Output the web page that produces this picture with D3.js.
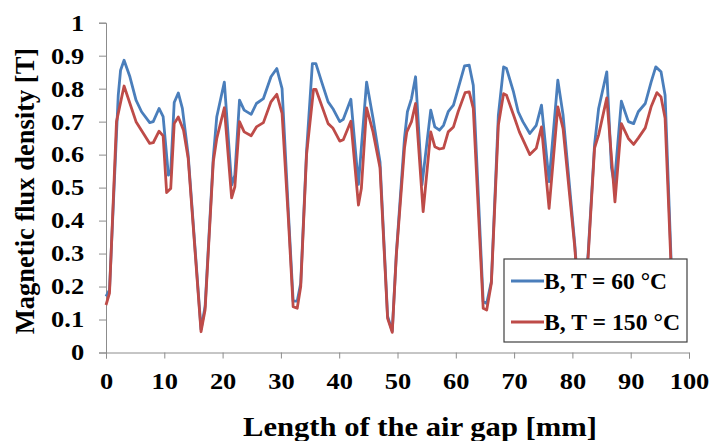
<!DOCTYPE html>
<html>
<head>
<meta charset="utf-8">
<script src="https://cdn.jsdelivr.net/npm/d3@7"></script>
<style>
  html, body { margin: 0; padding: 0; background: #fff; }
  svg { display: block; }
  svg text { font-family: "Liberation Serif", "Times New Roman", serif !important; font-weight: bold; fill: #000; }
</style>
</head>
<body>
<svg id="chart" width="710" height="441"></svg>
<script>
// ---- data ----
const seriesNames = ["B, T = 60 °C", "B, T = 150 °C"];
const seriesColors = ["#4A7EBB", "#BE4B48"];

const xBlue = [0,0.6,2.1,2.5,3.1, 4.1,5.15,6.1,7.5,8.1, 9.1,9.8,10.7,11.1,11.7, 12.4,13.1,14.1,16.3,17,
  18.4,19,20.3,21.55,22.1, 22.9,23.7,24.9,25.8,27, 28.3,29.3,30.2,31.3,32.1, 32.8,33.4,34.4,35.4,36,
  37,38.1,38.9,40.1,40.7, 42,43.3,44.7,45.8,47, 48.3,49.1,49.8,51.2,51.7, 52.4,53.1,54.2,55.7,56.4,
  57.2,57.9,58.7,59.6,60.4, 61.5,62.3,63,64.7,65.3, 66.1,67.3,68.2,68.7,69.9, 70.7,71.5,72.7,73.8,74.7,
  76,77.5,78.4,80.4,81.5, 82.7,83.8,84.5,85.9,86.7, 87.2,88.4,89.6,90.5,91.3, 92.5,93.5,94.3,95.2,95.9, 97.2];
const yBlue = [0.17,0.19,0.78,0.856,0.886, 0.836,0.765,0.73,0.697,0.70, 0.74,0.715,0.538,0.548,0.758,
  0.787,0.74,0.598,0.07,0.14, 0.59,0.715,0.82,0.508,0.538, 0.765,0.735,0.722,0.755,0.77,
  0.836,0.861,0.80,0.42,0.156, 0.156,0.21,0.61,0.876,0.876, 0.82,0.76,0.74,0.70,0.707,
  0.768,0.51,0.82,0.71,0.578, 0.11,0.065,0.30,0.65,0.73, 0.77,0.836,0.508,0.735,0.684,
  0.674,0.689,0.73,0.75,0.80, 0.869,0.871,0.81,0.154,0.149, 0.215,0.72,0.866,0.861,0.79,
  0.73,0.70,0.664,0.689,0.75, 0.518,0.826,0.72,0.33,0.07, 0.30,0.63,0.74,0.851,0.56,
  0.51,0.762,0.70,0.694,0.73, 0.755,0.82,0.866,0.851,0.78, 0.15];

const xRed = [0,0.6,1.8,3.1,5.15, 7.5,8.1,9.1,9.8,10.4, 11.1,11.7,12.4,13.3,14.1, 16.3,17,18.4,19,20.3,
  21.55,22.1,22.9,23.7,24.9, 25.8,27,28.3,29.3,30.2, 31.3,32.1,32.8,33.4,34.4, 35.6,36,38.1,38.9,40.1,
  40.7,42,43.3,43.8,44.7, 45.8,47,48.3,49.1,49.8, 51.2,51.6,52.4,53.1,54.4, 55.7,56.4,57.2,57.9,58.7,
  59.6,60.4,61.6,62.3,63, 64.7,65.3,66.1,67.3,68.2, 68.7,69.9,70.9,72.7,73.8, 74.7,76,77.5,78.4,80.4,
  81.5,82.7,83.8,84.5,85.9, 87.3,88.4,89.6,90.5,91.3, 92.5,93.5,94.5,95.2,95.9, 97.2];
const yRed = [0.144,0.18,0.70,0.808,0.70, 0.634,0.636,0.671,0.657,0.485, 0.497,0.694,0.714,0.674,0.588,
  0.063,0.13,0.578,0.649,0.742, 0.469,0.502,0.70,0.669,0.657, 0.684,0.697,0.76,0.783,0.725,
  0.40,0.139,0.134,0.20,0.60, 0.798,0.798,0.694,0.681,0.641, 0.645,0.701,0.447,0.497,0.742,
  0.669,0.56,0.104,0.061,0.295, 0.62,0.669,0.70,0.755,0.427, 0.669,0.624,0.617,0.62,0.669,
  0.684,0.73,0.788,0.79,0.74, 0.134,0.129,0.21,0.69,0.785, 0.78,0.72,0.669,0.60,0.619,
  0.684,0.437,0.745,0.679,0.32, 0.065,0.29,0.62,0.66,0.772, 0.457,0.694,0.649,0.631,0.65,
  0.681,0.745,0.788,0.775,0.71, 0.14];

const xTicks = [0,10,20,30,40,50,60,70,80,90,100];
const yTicks = [0,0.1,0.2,0.3,0.4,0.5,0.6,0.7,0.8,0.9,1];
const xTitle = "Length of the air gap [mm]";
const yTitle = "Magnetic flux density [T]";

(function () {
const serif = '"Liberation Serif", "Times New Roman", serif';
// ---- layout ----
const svg = d3.select("#chart");
const mLeft = 106, mRight = 689, mTop = 22.7, mBottom = 352.5;
const x = d3.scaleLinear().domain([0, 100]).range([mLeft, mRight]);
const y = d3.scaleLinear().domain([0, 1]).range([mBottom, mTop]);
const axisColor = "#8C8C8C";
const sx = 1.15; // horizontal stretch seen in the reference text

// axes
const gx = svg.append("g").attr("transform", `translate(0,${mBottom})`)
  .call(d3.axisBottom(x).tickValues(xTicks).tickSize(6).tickPadding(14).tickFormat(d3.format("d")));
const gy = svg.append("g").attr("transform", `translate(${mLeft},0)`)
  .call(d3.axisLeft(y).tickValues(yTicks).tickSize(7).tickPadding(12).tickFormat(d => d === 0 ? "0" : d === 1 ? "1" : d3.format(".1f")(d)));
[gx, gy].forEach(g => {
  g.attr("font-family", serif);
  g.select(".domain").attr("stroke", axisColor).attr("stroke-width", 1);
  g.selectAll(".tick line").attr("stroke", axisColor).attr("stroke-width", 1);
  g.selectAll(".tick text").style("font-family", serif).style("font-weight", "bold")
    .style("font-size", "23px").attr("fill", "#000");
});
gx.selectAll(".tick text").attr("dy", "0.71em").attr("transform", `scale(${sx},1)`);
gy.selectAll(".tick text").attr("transform", `scale(${sx},1)`);

// lines
const line = d3.line().x(d => x(d[0])).y(d => y(d[1]));
const series = [d3.zip(xBlue, yBlue), d3.zip(xRed, yRed)];
svg.append("g").selectAll("path").data(series).join("path")
  .attr("d", line).attr("fill", "none")
  .attr("stroke", (d, i) => seriesColors[i]).attr("stroke-width", 2.8)
  .attr("stroke-linejoin", "round");

// titles
svg.append("text").attr("x", 420).attr("y", 436)
  .attr("text-anchor", "middle").style("font-size", "27px")
  .attr("textLength", 354).attr("lengthAdjust", "spacingAndGlyphs").text(xTitle);
svg.append("text").attr("transform", `translate(34,191) rotate(-90)`)
  .attr("text-anchor", "middle").style("font-size", "26.5px").text(yTitle);

// legend
const lg = svg.append("g");
lg.append("rect").attr("x", 504).attr("y", 259).attr("width", 183).attr("height", 83)
  .attr("fill", "#fff").attr("stroke", "#404040").attr("stroke-width", 1.2);
seriesNames.forEach((name, i) => {
  const cy = 281 + i * 41;
  lg.append("line").attr("x1", 511).attr("x2", 544).attr("y1", cy).attr("y2", cy)
    .attr("stroke", seriesColors[i]).attr("stroke-width", 2.8);
  lg.append("text").attr("x", 544).attr("y", cy + 8).style("font-size", "23px")
    .attr("textLength", i === 0 ? 123 : 136).attr("lengthAdjust", "spacingAndGlyphs").text(name);
});
})();
</script>
</body>
</html>
